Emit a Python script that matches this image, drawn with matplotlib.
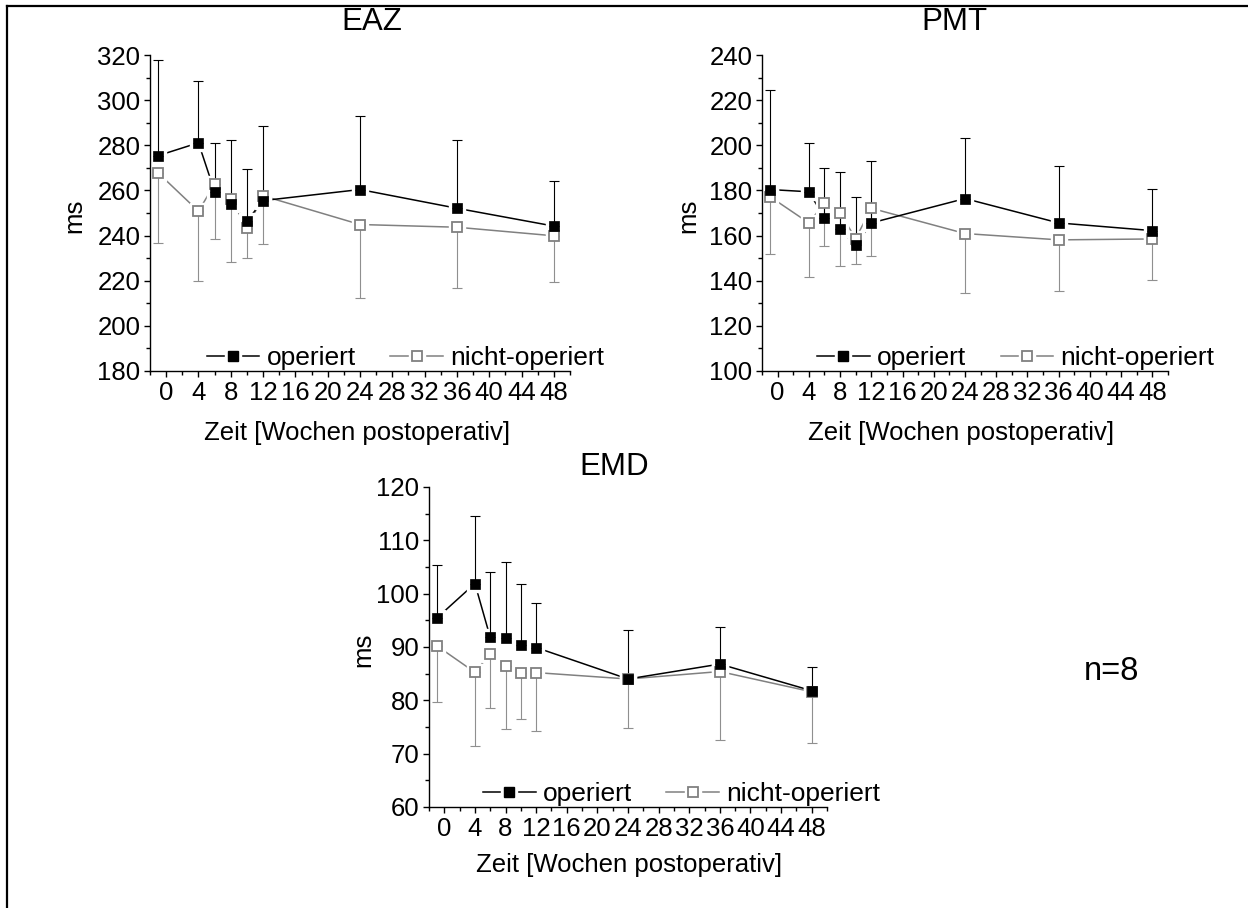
import numpy as np
import matplotlib
matplotlib.use('Agg')
import matplotlib.pyplot as plt
from matplotlib.lines import Line2D
from matplotlib.ticker import MultipleLocator
from matplotlib.legend_handler import HandlerTuple

plt.rcParams['font.family'] = ['Liberation Sans', 'DejaVu Sans']

# Zeitpunkte (Wochen postoperativ), praeoperativ bei -1
wochen = [-1, 4, 6, 8, 10, 12, 24, 36, 48]

# EAZ
eaz_op = [275.4, 281.1, 259.5, 253.9, 246.5, 255.5, 260.4, 252.1, 244.2]
eaz_op_oben = [317.8, 308.5, 281.1, 282.3, 269.6, 288.4, 292.9, 282.3, 264.3]
eaz_nop = [267.8, 250.8, 262.8, 256.4, 243.3, 257.6, 244.9, 243.7, 239.9]
eaz_nop_unten = [236.8, 219.8, 238.7, 228.2, 230.1, 236.3, 212.4, 216.8, 219.3]

# PMT
pmt_op = [180.4, 179.4, 167.9, 162.7, 155.7, 165.6, 176.4, 165.6, 162.2]
pmt_op_oben = [224.5, 201.1, 190.0, 188.3, 177.2, 193.1, 203.3, 190.8, 180.7]
pmt_nop = [177.3, 165.6, 174.4, 169.9, 158.7, 172.1, 160.9, 158.1, 158.5]
pmt_nop_unten = [152.0, 141.7, 155.3, 146.3, 147.6, 151.1, 134.6, 135.3, 140.4]

# EMD
emd_op = [95.4, 101.9, 91.8, 91.7, 90.4, 89.9, 84.0, 86.8, 81.8]
emd_op_oben = [105.3, 114.6, 104.0, 105.9, 101.8, 98.2, 93.2, 93.75, 86.2]
emd_nop = [90.25, 85.25, 88.7, 86.4, 85.1, 85.2, 84.0, 85.4, 81.6]
emd_nop_unten = [79.6, 71.5, 78.6, 74.7, 76.5, 74.3, 74.9, 72.6, 72.0]

GRAU = '#808080'
GRAU_FEHLER = '#8f8f8f'
FS = 18.5
MS = 6.6
MS_LUECKE = 11

W, H = 1248, 908


def pos(x0, y0, x1, y1):
    return [x0 / W, (H - y1) / H, (x1 - x0) / W, (y1 - y0) / H]


def panel(fig, rect, titel, titel_x, titel_y, op, op_oben, nop, nop_unten,
          ylim, ymaj, ymin, ms_x, leg_x, leg_y):
    ax = fig.add_axes(rect)
    x = np.array(wochen)
    op = np.array(op)
    nop = np.array(nop)
    err_op = np.array(op_oben) - op
    err_nop = nop - np.array(nop_unten)
    null = np.zeros(len(x))

    # Linien
    ax.plot(x, nop, color=GRAU, lw=1.1, zorder=2)
    ax.plot(x, op, color='black', lw=1.1, zorder=2)
    # weisse Luecken um die Symbole
    ax.plot(x, nop, ls='none', marker='s', ms=MS_LUECKE, mfc='white', mec='white', zorder=3)
    ax.plot(x, op, ls='none', marker='s', ms=MS_LUECKE, mfc='white', mec='white', zorder=3)
    # Fehlerbalken
    ax.errorbar(x, nop, yerr=[err_nop, null], fmt='none',
                ecolor=GRAU_FEHLER, elinewidth=0.8, capsize=3.3, capthick=0.8, zorder=4)
    ax.errorbar(x, op, yerr=[null, err_op], fmt='none',
                ecolor='black', elinewidth=0.8, capsize=3.3, capthick=0.8, zorder=4)
    # Symbole
    ax.plot(x, nop, ls='none', marker='s', ms=MS, mfc='white', mec=GRAU, mew=1.3, zorder=5)
    ax.plot(x, op, ls='none', marker='s', ms=MS, mfc='black', mec='black', mew=0.5, zorder=6)

    ax.set_xlim(-2, 50)
    ax.set_ylim(*ylim)
    ax.xaxis.set_minor_locator(MultipleLocator(2))
    ax.yaxis.set_major_locator(MultipleLocator(ymaj))
    ax.yaxis.set_minor_locator(MultipleLocator(ymin))
    ax.set_xticks(range(0, 49, 4))
    for s in ['top', 'right']:
        ax.spines[s].set_visible(False)
    for s in ['left', 'bottom']:
        ax.spines[s].set_linewidth(1.0)
        ax.spines[s].set_zorder(10)
    ax.tick_params(which='major', direction='out', length=4.5, width=1.0,
                   labelsize=FS, pad=2.5)
    ax.tick_params(which='minor', direction='out', length=2.6, width=1.0)

    ax.text(titel_x, titel_y, titel, transform=ax.transAxes, ha='center',
            va='center', fontsize=22.5)
    ax.text(ms_x, 0.49, 'ms', transform=ax.transAxes, rotation=90,
            ha='center', va='center', fontsize=FS)

    h_op = (Line2D([], [], color='black', lw=1.1),
            Line2D([], [], ls='none', marker='s', ms=MS_LUECKE, mfc='white', mec='white'),
            Line2D([], [], ls='none', marker='s', ms=MS, mfc='black', mec='black'))
    h_nop = (Line2D([], [], color=GRAU, lw=1.1),
             Line2D([], [], ls='none', marker='s', ms=MS_LUECKE, mfc='white', mec='white'),
             Line2D([], [], ls='none', marker='s', ms=MS, mfc='white', mec=GRAU, mew=1.3))
    ax.legend([h_op, h_nop], ['operiert', 'nicht-operiert'],
              handler_map={tuple: HandlerTuple(ndivide=1)},
              ncol=2, frameon=False, loc='center left',
              bbox_to_anchor=(leg_x, leg_y), borderpad=0, borderaxespad=0,
              handlelength=2.0, handletextpad=0.28, columnspacing=1.3,
              fontsize=19)
    return ax


fig = plt.figure(figsize=(12.48, 9.08), dpi=100)

ax1 = panel(fig, pos(150, 55, 570, 371), 'EAZ', 0.529, 1.104,
            eaz_op, eaz_op_oben, eaz_nop, eaz_nop_unten,
            (180, 320), 20, 10, -0.179, 0.135, 0.041)
ax1.text(0.493, -0.196, 'Zeit [Wochen postoperativ]', transform=ax1.transAxes,
         ha='center', va='center', fontsize=FS)

ax2 = panel(fig, pos(762, 55, 1168, 371), 'PMT', 0.475, 1.104,
            pmt_op, pmt_op_oben, pmt_nop, pmt_nop_unten,
            (100, 240), 20, 10, -0.182, 0.135, 0.041)
ax2.text(0.49, -0.196, 'Zeit [Wochen postoperativ]', transform=ax2.transAxes,
         ha='center', va='center', fontsize=FS)

ax3 = panel(fig, pos(429, 487, 827, 807), 'EMD', 0.465, 1.0625,
            emd_op, emd_op_oben, emd_nop, emd_nop_unten,
            (60, 120), 10, 5, -0.166, 0.135, 0.041)
ax3.text(0.503, -0.181, 'Zeit [Wochen postoperativ]', transform=ax3.transAxes,
         ha='center', va='center', fontsize=FS)

fig.text(1112 / W, 1 - 672 / H, 'n=8', ha='center', va='center', fontsize=23.5)

# Rahmen oben und links
fig.add_artist(Line2D([7 / W, 1.0], [1 - 6 / H, 1 - 6 / H], color='black', lw=1.6))
fig.add_artist(Line2D([7 / W, 7 / W], [0, 1 - 6 / H], color='black', lw=1.6))

fig.savefig('out.png', dpi=100)
